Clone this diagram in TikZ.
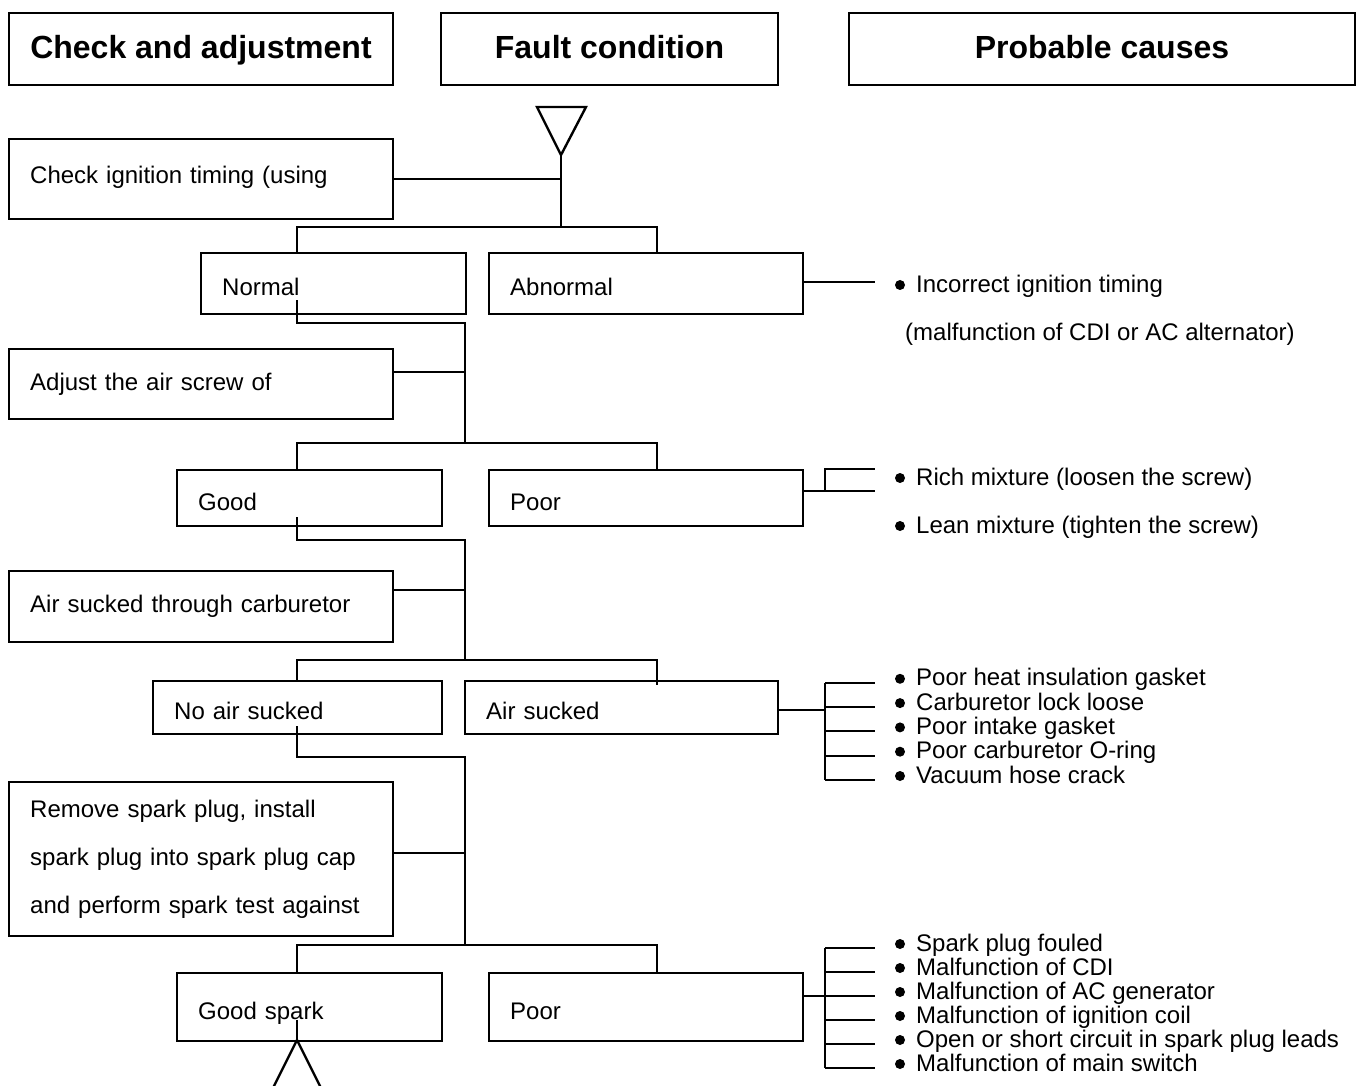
\documentclass[tikz,border=0pt]{standalone}
\usepackage{fontspec}
\setmainfont{Liberation Sans}
\usetikzlibrary{positioning}

\begin{document}
\begin{tikzpicture}[
  x=1pt, y=-1pt,
  every node/.style={font=\fontsize{24}{28}\selectfont},
  head/.style={draw,line width=2pt,anchor=north west,align=center,
    text height=25pt,text depth=5pt,font=\fontsize{32}{36}\selectfont\bfseries},
  box/.style={draw,line width=2.4pt,anchor=north west,inner xsep=21pt,align=left,
    text height=17.5pt,text depth=5pt},
  fault/.style={box,text height=26pt,text depth=1.5pt},
  cause/.style={anchor=west,inner sep=0pt,text height=16pt,text depth=4pt},
  link/.style={line width=2pt}
]
  \useasboundingbox (0,0) rectangle (1358,1086);

  % column heads
  \node[head,minimum width=384pt,minimum height=72pt] (hchk) at (8,12) {Check and adjustment};
  \node[head,minimum width=337pt,minimum height=72pt] (hflt) at (440,12) {Fault condition};
  \node[head,minimum width=506pt,minimum height=72pt] (hcau) at (848,12) {Probable causes};

  % checks
  \node[box,text width=342pt,minimum height=80pt,text height=14pt,text depth=6pt] (chk) at (8,138)
    {Check ignition timing (using};
  \node[box,text width=342pt,minimum height=70pt] (adj) at (8,348) {Adjust the air screw of};
  \node[box,text width=342pt,minimum height=71pt] (air) at (8,570) {Air sucked through carburetor};
  \node[box,text width=342pt,minimum height=154pt,text height=,text depth=,
    font=\fontsize{24}{48}\selectfont] (spk) at (8,781)
    {Remove spark plug, install\\ spark plug into spark plug cap\\ and perform spark test against};

  % fault conditions
  \node[fault,text width=223pt,minimum height=61pt] (nrm)   at (200,252) {Normal};
  \node[fault,text width=272pt,minimum height=61pt] (abn)   at (488,252) {Abnormal};
  \node[fault,text width=223pt,minimum height=56pt] (good)  at (176,469) {Good};
  \node[fault,text width=272pt,minimum height=56pt] (poor1) at (488,469) {Poor};
  \node[fault,text width=247pt,minimum height=53pt] (noair) at (152,680) {No air sucked};
  \node[fault,text width=271pt,minimum height=53pt] (airs)  at (464,680) {Air sucked};
  \node[fault,text width=223pt,minimum height=68pt] (gsp)   at (176,972) {Good spark};
  \node[fault,text width=272pt,minimum height=68pt] (poor2) at (488,972) {Poor};

  % probable causes
  \node[cause] (inc)  at (916,286) {Incorrect ignition timing};
  \node[cause] (mal)  at (905,334) {(malfunction of CDI or AC alternator)};
  \node[cause] (rich) at (916,479) {Rich mixture (loosen the screw)};
  \node[cause] (lean) at (916,527) {Lean mixture (tighten the screw)};
  \foreach \t [count=\i] in {Poor heat insulation gasket,Carburetor lock loose,Poor intake gasket,
      Poor carburetor O-ring,Vacuum hose crack}
    \node[cause] (leak\i) at (916,{655.5+24.3*\i}) {\t};
  \foreach \t [count=\i] in {Spark plug fouled,Malfunction of CDI,Malfunction of AC generator,
      Malfunction of ignition coil,Open or short circuit in spark plug leads,Malfunction of main switch}
    \node[cause] (fail\i) at (916,{921+24*\i}) {\t};

  % bullets
  \foreach \n in {inc,rich,lean,leak1,leak2,leak3,leak4,leak5,fail1,fail2,fail3,fail4,fail5,fail6}
    \fill ([xshift=-16pt,yshift=1pt]\n.west) circle (5pt);

  % start and end marks
  \coordinate (top) at (561,155);
  \coordinate (bot) at (297,1040);
  \draw[link,line width=2.4pt,line join=miter] (537,107) -- (586,107) -- (top) -- cycle;
  \draw[link,line width=2.4pt,line join=miter] (bot) -- (272,1090) -- (322,1090) -- cycle;

  % junctions
  \coordinate (l1) at (297,227);  \coordinate (r1) at (657,227);
  \coordinate (s2) at (297,300);  \coordinate (t2) at (465,323);
  \coordinate (l2) at (297,443);  \coordinate (r2) at (657,443);  \coordinate (k2) at (465,443);
  \coordinate (s3) at (297,517);  \coordinate (t3) at (465,540);
  \coordinate (l3) at (297,660);  \coordinate (r3) at (657,660);  \coordinate (k3) at (465,660);
  \coordinate (s4) at (297,726);  \coordinate (t4) at (465,757);
  \coordinate (l4) at (297,945);  \coordinate (r4) at (657,945);  \coordinate (k4) at (465,945);
  \coordinate (s5) at (297,1020);

  % tree
  \draw[link] (top) -- (top |- l1);
  \draw[link] (chk.east) -- (chk.east -| top);
  \draw[link] (l1 |- nrm.north) -- (l1) -- (r1) -- (r1 |- abn.north);

  \draw[link] (s2) |- (t2) -- (k2);
  \draw[link] ([yshift=12pt]adj.east) -- ([yshift=12pt]adj.east -| k2);
  \draw[link] (l2 |- good.north) -- (l2) -- (r2) -- (r2 |- poor1.north);

  \draw[link] (s3) |- (t3) -- (k3);
  \draw[link] ([yshift=17pt]air.east) -- ([yshift=17pt]air.east -| k3);
  \draw[link] (l3 |- noair.north) -- (l3) -- (r3) -- ([yshift=-5pt]r3 |- airs.north);

  \draw[link] (s4) |- (t4) -- (k4);
  \draw[link] ([yshift=6pt]spk.east) -- ([yshift=6pt]spk.east -| k4);
  \draw[link] (l4 |- gsp.north) -- (l4) -- (r4) -- (r4 |- poor2.north);

  \draw[link] (s5) -- (bot);

  % links to causes
  \coordinate (e1) at (875,282);
  \draw[link] (abn.east |- e1) -- (e1);

  \coordinate (q1) at (875,469);
  \coordinate (q2) at (875,491);
  \coordinate (brk1) at (825,491);
  \draw[link] (poor1.east |- q2) -- (q2);
  \draw[link] (brk1) -- (brk1 |- q1) -- (q1);

  \coordinate (brk2) at (825,710);
  \draw[link] (airs.east |- brk2) -- (brk2);
  \draw[link] ([yshift=-3pt]brk2 |- leak1) -- ([yshift=-3pt]brk2 |- leak5);
  \foreach \i in {1,...,5}
    \draw[link] ([yshift=-3pt]brk2 |- leak\i) -- ([xshift=-41pt,yshift=-3pt]leak\i.west);

  \coordinate (brk3) at (825,996);
  \draw[link] (poor2.east |- brk3) -- (brk3);
  \draw[link] ([yshift=-3pt]brk3 |- fail1) -- ([yshift=-3pt]brk3 |- fail6);
  \foreach \i in {1,...,6}
    \draw[link] ([yshift=-3pt]brk3 |- fail\i) -- ([xshift=-41pt,yshift=-3pt]fail\i.west);
\end{tikzpicture}
\end{document}
